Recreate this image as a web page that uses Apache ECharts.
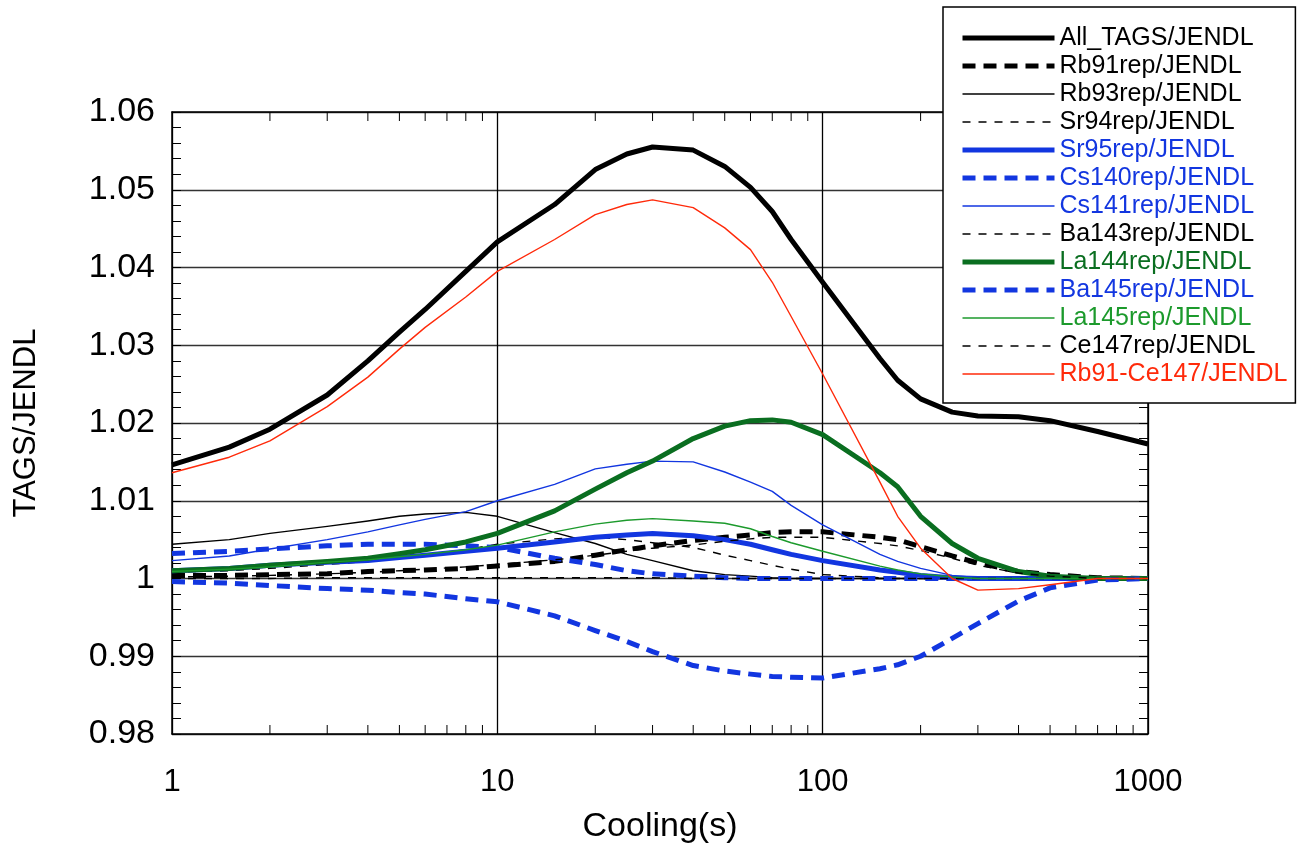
<!DOCTYPE html>
<html>
<head>
<meta charset="utf-8">
<title>TAGS/JENDL ratio vs cooling time</title>
<script src="https://cdn.jsdelivr.net/npm/echarts@6/dist/echarts.min.js"></script>
<style>
  html, body { margin: 0; padding: 0; background: #fff; }
  #chart { width: 1311px; height: 849px; }
</style>
</head>
<body>
<div id="chart"></div>
<script>
// Cooling times (s) shared by every curve
const times = [1, 1.5, 2, 3, 4, 5, 6, 8, 10, 15, 20, 25, 30, 40, 50, 60, 70, 80, 100, 150, 170, 200, 250, 300, 400, 500, 700, 1000];

// Ratio TAGS/JENDL for each replacement case
const allTags  = [1.0146, 1.0169, 1.0192, 1.0236, 1.0280, 1.0317, 1.0346, 1.0395, 1.0433, 1.0481, 1.0526, 1.0546, 1.0555, 1.0551, 1.0530, 1.0503, 1.0472, 1.0436, 1.0381, 1.0283, 1.0255, 1.0231, 1.0214, 1.0209, 1.0208, 1.0203, 1.0189, 1.0173];
const rb91     = [1.0004, 1.0004, 1.0005, 1.0006, 1.0009, 1.0010, 1.0011, 1.0013, 1.0016, 1.0022, 1.0030, 1.0037, 1.0042, 1.0049, 1.0053, 1.0056, 1.0059, 1.0060, 1.0060, 1.0053, 1.0050, 1.0041, 1.0029, 1.0020, 1.0009, 1.0005, 1.0001, 1.0000];
const rb93     = [1.0044, 1.0050, 1.0058, 1.0067, 1.0074, 1.0080, 1.0083, 1.0085, 1.0080, 1.0059, 1.0045, 1.0031, 1.0023, 1.0010, 1.0005, 1.0003, 1.0001, 1.0000, 1.0000, 1.0000, 1.0000, 1.0000, 1.0000, 1.0000, 1.0000, 1.0000, 1.0000, 1.0000];
const sr94     = [1.0008, 1.0010, 1.0013, 1.0018, 1.0022, 1.0026, 1.0030, 1.0037, 1.0044, 1.0051, 1.0053, 1.0050, 1.0046, 1.0040, 1.0030, 1.0023, 1.0017, 1.0012, 1.0005, 1.0001, 1.0000, 1.0000, 1.0000, 1.0000, 1.0000, 1.0000, 1.0000, 1.0000];
const sr95     = [1.0010, 1.0013, 1.0017, 1.0021, 1.0023, 1.0027, 1.0030, 1.0035, 1.0039, 1.0047, 1.0053, 1.0056, 1.0058, 1.0055, 1.0050, 1.0044, 1.0037, 1.0031, 1.0023, 1.0011, 1.0008, 1.0004, 1.0001, 1.0000, 1.0000, 1.0000, 1.0000, 1.0000];
const cs140    = [1.0032, 1.0035, 1.0038, 1.0042, 1.0044, 1.0044, 1.0044, 1.0042, 1.0040, 1.0026, 1.0018, 1.0010, 1.0006, 1.0003, 1.0001, 1.0000, 1.0000, 1.0000, 1.0000, 1.0000, 1.0000, 1.0000, 1.0000, 1.0000, 1.0000, 1.0000, 1.0000, 1.0000];
const cs141    = [1.0023, 1.0029, 1.0038, 1.0050, 1.0060, 1.0069, 1.0076, 1.0086, 1.0100, 1.0121, 1.0141, 1.0147, 1.0151, 1.0150, 1.0137, 1.0124, 1.0112, 1.0094, 1.0069, 1.0031, 1.0022, 1.0013, 1.0004, 1.0001, 1.0000, 1.0000, 1.0000, 1.0000];
const ba143    = [1.0000, 1.0000, 1.0000, 1.0001, 1.0001, 1.0001, 1.0001, 1.0001, 1.0001, 1.0001, 1.0001, 1.0001, 1.0001, 1.0000, 1.0000, 1.0000, 1.0000, 1.0000, 1.0000, 1.0000, 1.0000, 1.0000, 1.0000, 1.0000, 1.0000, 1.0000, 1.0000, 1.0000];
const la144    = [1.0010, 1.0013, 1.0017, 1.0022, 1.0026, 1.0032, 1.0037, 1.0047, 1.0058, 1.0087, 1.0115, 1.0136, 1.0151, 1.0180, 1.0196, 1.0203, 1.0204, 1.0201, 1.0185, 1.0136, 1.0118, 1.0080, 1.0045, 1.0026, 1.0009, 1.0003, 1.0000, 1.0000];
const ba145    = [0.9996, 0.9994, 0.9991, 0.9987, 0.9985, 0.9982, 0.9980, 0.9974, 0.9970, 0.9952, 0.9933, 0.9919, 0.9906, 0.9888, 0.9881, 0.9877, 0.9874, 0.9873, 0.9872, 0.9884, 0.9889, 0.9900, 0.9923, 0.9942, 0.9971, 0.9988, 0.9998, 1.0000];
const la145    = [1.0009, 1.0012, 1.0015, 1.0021, 1.0024, 1.0028, 1.0031, 1.0037, 1.0043, 1.0060, 1.0070, 1.0075, 1.0077, 1.0074, 1.0071, 1.0064, 1.0054, 1.0046, 1.0035, 1.0016, 1.0011, 1.0006, 1.0002, 1.0000, 1.0000, 1.0000, 1.0000, 1.0000];
const ce147    = [1.0002, 1.0003, 1.0004, 1.0006, 1.0008, 1.0010, 1.0012, 1.0015, 1.0018, 1.0024, 1.0030, 1.0035, 1.0039, 1.0043, 1.0048, 1.0051, 1.0053, 1.0053, 1.0053, 1.0045, 1.0042, 1.0036, 1.0026, 1.0017, 1.0007, 1.0003, 1.0000, 1.0000];
const rb91ce147 = [1.0136, 1.0156, 1.0177, 1.0221, 1.0259, 1.0295, 1.0323, 1.0362, 1.0395, 1.0436, 1.0468, 1.0481, 1.0487, 1.0477, 1.0451, 1.0423, 1.0381, 1.0337, 1.0263, 1.0124, 1.0080, 1.0039, 1.0000, 0.9985, 0.9987, 0.9992, 1.0000, 1.0000];

// Legend labels and axis ticks
const names = ['All_TAGS/JENDL', 'Rb91rep/JENDL', 'Rb93rep/JENDL', 'Sr94rep/JENDL', 'Sr95rep/JENDL',
  'Cs140rep/JENDL', 'Cs141rep/JENDL', 'Ba143rep/JENDL', 'La144rep/JENDL', 'Ba145rep/JENDL',
  'La145rep/JENDL', 'Ce147rep/JENDL', 'Rb91-Ce147/JENDL'];
const values = [allTags, rb91, rb93, sr94, sr95, cs140, cs141, ba143, la144, ba145, la145, ce147, rb91ce147];
const xMinorTicks = [2, 3, 4, 5, 6, 7, 8, 9, 20, 30, 40, 50, 60, 70, 80, 90, 200, 300, 400, 500, 600, 700, 800, 900];

// Line appearance per curve
const BLACK = '#000000', BLUE = '#1236e0', DKGREEN = '#0a6e20', GREEN = '#1c9a2c', RED = '#ff2a0a';
const THICK = 5, THIN = 1.4;
const BIGDASH = [13, 8], SMALLDASH = [8, 8];
const styles = [
  { color: BLACK,   width: THICK, type: 'solid' },
  { color: BLACK,   width: THICK, type: BIGDASH },
  { color: BLACK,   width: THIN,  type: 'solid' },
  { color: BLACK,   width: THIN,  type: SMALLDASH },
  { color: BLUE,    width: THICK, type: 'solid' },
  { color: BLUE,    width: THICK, type: BIGDASH },
  { color: BLUE,    width: THIN,  type: 'solid' },
  { color: BLACK,   width: THIN,  type: SMALLDASH },
  { color: DKGREEN, width: THICK, type: 'solid' },
  { color: BLUE,    width: THICK, type: BIGDASH },
  { color: GREEN,   width: THIN,  type: 'solid' },
  { color: BLACK,   width: THIN,  type: SMALLDASH },
  { color: RED,     width: THIN,  type: 'solid' }
];

const FONT = "'Liberation Sans', Arial, Helvetica, sans-serif";

const lineSeries = names.map((name, i) => ({
  name: name,
  type: 'line',
  data: times.map((t, k) => [t, values[i][k]]),
  showSymbol: false,
  symbol: 'none',
  smooth: false,
  clip: true,
  lineStyle: { color: styles[i].color, width: styles[i].width, type: styles[i].type, cap: 'butt', join: 'round' },
  itemStyle: { color: styles[i].color },
  emphasis: { disabled: true },
  z: 2,
  zlevel: 0
}));

// Minor ticks of the logarithmic time axis, drawn inward from the bottom and top frame edges
const minorTickSeries = {
  type: 'custom',
  name: 'xMinorTicks',
  silent: true,
  clip: false,
  z: 2,
  data: xMinorTicks.map(v => [v]),
  encode: { x: 0 },
  renderItem: function (params, api) {
    const cs = params.coordSys;
    const x = api.coord([api.value(0), 1])[0];
    const len = 9;
    const s = { stroke: '#000', lineWidth: 1 };
    return {
      type: 'group',
      children: [
        { type: 'line', shape: { x1: x, y1: cs.y + cs.height, x2: x, y2: cs.y + cs.height - len }, style: s },
        { type: 'line', shape: { x1: x, y1: cs.y, x2: x, y2: cs.y + len }, style: s }
      ]
    };
  }
};

const chart = echarts.init(document.getElementById('chart'), null, { renderer: 'canvas' });

chart.setOption({
  animation: false,
  backgroundColor: '#ffffff',
  textStyle: { fontFamily: FONT },
  grid: { left: 172, right: 163, top: 112, bottom: 113, show: false },
  legend: {
    orient: 'vertical',
    left: 943,
    top: 7,
    z: 30,
    padding: [17, 8, 15, 17],
    backgroundColor: '#ffffff',
    borderColor: '#000000',
    borderWidth: 1.5,
    borderRadius: 0,
    itemWidth: 92,
    itemHeight: 14,
    itemGap: 0,
    selectedMode: false,
    textStyle: { fontFamily: FONT, fontSize: 25, lineHeight: 28, color: '#000' },
    data: names.map((name, i) => ({
      name: name,
      itemStyle: { color: 'rgba(0,0,0,0)', borderColor: 'rgba(0,0,0,0)', borderWidth: 0, opacity: 0 },
      lineStyle: { color: styles[i].color, width: styles[i].width, type: styles[i].type, cap: 'butt', opacity: 1 },
      textStyle: { color: styles[i].color === BLACK ? '#000' : styles[i].color }
    }))
  },
  xAxis: [{
    type: 'log',
    logBase: 10,
    min: 1,
    max: 1000,
    name: 'Cooling(s)',
    nameLocation: 'middle',
    nameGap: 76,
    nameTextStyle: { fontFamily: FONT, fontSize: 34, color: '#000' },
    axisLine: { show: true, onZero: false, lineStyle: { color: '#000', width: 1.5 } },
    axisTick: { show: true, inside: true, length: 9, lineStyle: { color: '#000', width: 1 } },
    minorTick: { show: false },
    axisLabel: { fontFamily: FONT, fontSize: 31, color: '#000', margin: 33, formatter: v => String(Math.round(v)) },
    splitLine: { show: true, lineStyle: { color: '#000', width: 1.3 } }
  }, {
    type: 'log',
    logBase: 10,
    min: 1,
    max: 1000,
    position: 'top',
    axisLine: { show: true, onZero: false, lineStyle: { color: '#000', width: 1.5 } },
    axisTick: { show: false },
    axisLabel: { show: false },
    splitLine: { show: false }
  }],
  yAxis: [{
    type: 'value',
    min: 0.98,
    max: 1.06,
    interval: 0.01,
    name: 'TAGS/JENDL',
    nameLocation: 'middle',
    nameGap: 130,
    nameRotate: 90,
    nameTextStyle: { fontFamily: FONT, fontSize: 31, color: '#000' },
    axisLine: { show: true, lineStyle: { color: '#000', width: 1.5 } },
    axisTick: { show: true, inside: true, length: 9, lineStyle: { color: '#000', width: 1 } },
    minorTick: { show: true, splitNumber: 5, length: 9, lineStyle: { color: '#000', width: 1 } },
    axisLabel: {
      fontFamily: FONT, fontSize: 34, color: '#000', margin: 17,
      formatter: v => String(+v.toFixed(2))
    },
    splitLine: { show: true, lineStyle: { color: '#333', width: 1.3 } }
  }, {
    type: 'value',
    min: 0.98,
    max: 1.06,
    interval: 0.01,
    position: 'right',
    axisLine: { show: true, lineStyle: { color: '#000', width: 1.5 } },
    axisTick: { show: true, inside: true, length: 9, lineStyle: { color: '#000', width: 1 } },
    minorTick: { show: true, splitNumber: 5, length: 9, lineStyle: { color: '#000', width: 1 } },
    axisLabel: { show: false },
    splitLine: { show: false }
  }],
  series: lineSeries.concat([minorTickSeries])
});
</script>
</body>
</html>
